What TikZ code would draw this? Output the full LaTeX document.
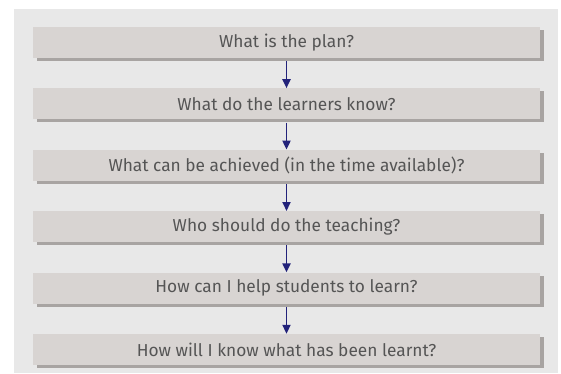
\documentclass[tikz,border=0pt]{standalone}
\usepackage{fontspec}
\setmainfont{Fira Sans}
\usepackage{tikz}
\usetikzlibrary{positioning,shadows,arrows.meta}

\definecolor{panel}{HTML}{E8E8E8}
\definecolor{boxfill}{HTML}{D8D4D2}
\definecolor{boxshade}{HTML}{A8A4A2}
\definecolor{arrowblue}{HTML}{22227A}
\definecolor{textgray}{HTML}{555555}

\begin{document}
\begin{tikzpicture}[x=1pt,y=-1pt,
  question/.style={rectangle,fill=boxfill,minimum width=507pt,minimum height=31pt,
    inner sep=0pt,text=textgray,font=\fontsize{17.3}{19}\selectfont,
    drop shadow={shadow xshift=4pt,shadow yshift=-3pt,fill=boxshade,opacity=1}},
  flow/.style={draw=arrowblue,line width=1.9pt,-{Triangle[length=9pt,width=8pt]}},
  node distance=30pt]
\useasboundingbox (0,0) rectangle (561,373);
\fill[panel] (14,9) rectangle (558,373);
% the six questions, top to bottom
\node [question] (plan) at (286.5,42.5) {What is the plan?};
\node [question,below=of plan] (know) {What do the learners know?};
\node [question,below=of know] (achieve) {What can be achieved (in the time available)?};
\node [question,below=of achieve] (teach) {Who should do the teaching?};
\node [question,below=of teach] (help) {How can I help students to learn?};
\node [question,below=of help] (learnt) {How will I know what has been learnt?};
% arrows between them
\draw [flow] ([yshift=-3pt]plan.south) -- (know.north);
\draw [flow] ([yshift=-3pt]know.south) -- (achieve.north);
\draw [flow] ([yshift=-3pt]achieve.south) -- (teach.north);
\draw [flow] ([yshift=-3pt]teach.south) -- (help.north);
\draw [flow] ([yshift=-3pt]help.south) -- (learnt.north);
\end{tikzpicture}
\end{document}
